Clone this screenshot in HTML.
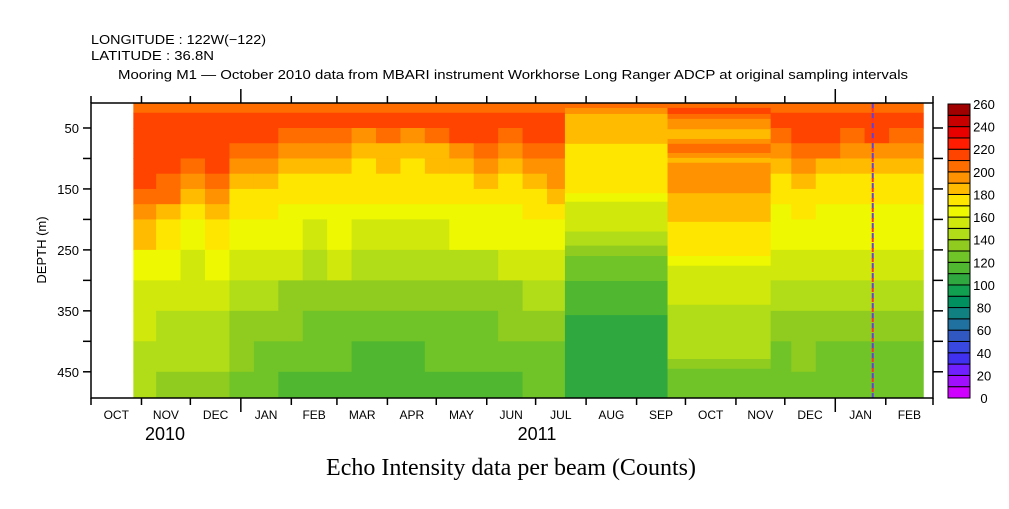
<!DOCTYPE html>
<html><head><meta charset="utf-8">
<style>
body{margin:0;background:#fff;}
svg text{font-family:"Liberation Sans",sans-serif;fill:#000;}
</style></head>
<body>
<svg id="chart" width="1009" height="504" viewBox="0 0 1009 504" xmlns="http://www.w3.org/2000/svg">
<text x="91" y="44" font-size="13" textLength="175" lengthAdjust="spacingAndGlyphs">LONGITUDE : 122W(−122)</text>
<text x="91" y="60" font-size="13" textLength="123" lengthAdjust="spacingAndGlyphs">LATITUDE : 36.8N</text>
<text x="118" y="79" font-size="13" textLength="790" lengthAdjust="spacingAndGlyphs">Mooring M1 — October 2010 data from MBARI instrument Workhorse Long Ranger ADCP at original sampling intervals</text>
<g id="heat"></g>
<g id="axes"></g>
<g id="cbar"></g>
<text transform="translate(46,250) rotate(-90)" text-anchor="middle" font-size="13">DEPTH (m)</text>
<text x="165" y="440" text-anchor="middle" font-size="18">2010</text>
<text x="537" y="440" text-anchor="middle" font-size="18">2011</text>
<text x="511" y="475" text-anchor="middle" font-size="24" style="font-family:'Liberation Serif',serif">Echo Intensity data per beam (Counts)</text>
</svg>
<script>
// ---- data ----
const depthEdges=[9,25,50,75,100,125,150,175,200,250,300,350,400,450,493];
const colStarts=[26,40,55,70,85,100,115,130,145,160,175,190,205,220,235,250,265,280];
const colEnd1=291;
const noisy1=[
[205,215,215,215,212,210,205,190,180,165,155,150,145,140],
[205,215,215,215,212,208,200,188,176,162,152,148,140,135],
[205,215,215,212,205,195,185,175,168,158,150,145,140,135],
[205,215,215,215,210,205,198,185,175,160,150,145,140,135],
[205,215,212,205,195,185,178,172,165,155,145,138,130,125],
[205,215,210,200,190,180,175,170,162,152,140,132,125,120],
[205,215,205,195,185,178,172,168,160,150,138,130,122,118],
[205,212,200,190,180,175,170,165,158,148,136,128,120,115],
[205,215,205,192,182,176,172,168,160,150,138,128,120,115],
[205,210,195,185,178,174,170,166,158,145,132,124,118,115],
[205,212,200,188,180,175,170,166,158,145,132,124,118,115],
[205,210,198,185,178,174,170,166,158,146,134,125,118,115],
[205,212,200,188,180,175,171,166,158,146,135,126,120,116],
[205,215,210,198,185,178,172,168,160,148,136,128,120,116],
[205,215,212,205,192,182,175,168,160,148,138,128,122,118],
[205,212,205,195,186,178,172,168,160,150,138,130,122,118],
[205,215,212,205,195,185,175,170,162,150,140,130,124,120],
[205,215,210,205,198,190,180,172,164,152,142,132,125,122]];
const colStarts2=[417,430,445,460,475,490];
const colEnd2=511;
const noisy2=[
[205,215,205,195,185,178,172,168,162,152,142,135,128,125],
[205,215,212,200,190,180,174,170,164,155,145,138,130,126],
[205,215,210,200,188,178,172,168,162,152,142,135,128,124],
[205,212,205,192,182,175,170,166,160,150,140,132,126,122],
[205,215,210,198,186,177,172,168,162,152,142,134,128,124],
[205,212,205,194,184,176,171,166,160,150,140,132,126,122]];
const augStart=291, augEnd=354;
const augDepths=[9,17,27,76,157,171,220,243,260,301,357,493];
const augValues=[205,195,185,175,165,155,145,135,125,115,105];
const octStart=354, octEnd=417;
const octDepths=[9,17,27,35,52,68,76,91,99,107,157,204,260,276,340,429,445,493];
const octValues=[205,215,205,195,185,195,205,195,185,195,185,175,165,155,145,135,125];
const cbColors=['#d000ff','#a010ff','#7020ff','#4030f0','#3848e0','#3058c0','#2070a0','#108080','#009060','#10a050','#30a840','#50b830','#70c428','#90cc20','#b0dc18','#d0e80c','#eef800','#ffe600','#ffbb00','#ff9200','#ff6c00','#ff4400','#ff1c00','#e80000','#c80000','#a00000'];
const monthDays=[0,31,61,92,123,151,182,212,243,273,304,335,365,396,426,457,488,517];
const monthLabels=['OCT','NOV','DEC','JAN','FEB','MAR','APR','MAY','JUN','JUL','AUG','SEP','OCT','NOV','DEC','JAN','FEB'];
const depthTicks=[50,100,150,200,250,300,350,400,450];
const cbTicks=[0,20,40,60,80,100,120,140,160,180,200,220,240,260];
const markerDay=480;
// ---- scales ----
const X0=91,X1=933,Y0=103,Y1=398,DMIN=9,DMAX=493,TMAX=517;
const xs=d=>X0+d*(X1-X0)/TMAX;
const ys=d=>Y0+(d-DMIN)*(Y1-Y0)/(DMAX-DMIN);
const col=v=>cbColors[Math.max(0,Math.min(25,Math.floor(v/10)))];
const NS='http://www.w3.org/2000/svg';
function mk(tag,parent,attrs){const e=document.createElementNS(NS,tag);for(const k in attrs)e.setAttribute(k,attrs[k]);parent.appendChild(e);return e;}
const heat=document.getElementById('heat');
function drawCols(starts,end,mat){
 starts.forEach((s,i)=>{const e=i+1<starts.length?starts[i+1]:end;
  mat[i].forEach((v,j)=>{const r=mk('rect',heat,{x:xs(s),y:ys(depthEdges[j]),width:xs(e)-xs(s)+0.5,height:ys(depthEdges[j+1])-ys(depthEdges[j])+0.5,fill:col(v)});
   
   });});}
drawCols(colStarts,colEnd1,noisy1);
drawCols(colStarts2,colEnd2,noisy2);
function drawLayers(s,e,dep,vals){vals.forEach((v,j)=>{const r=mk('rect',heat,{x:xs(s),y:ys(dep[j]),width:xs(e)-xs(s)+0.5,height:ys(dep[j+1])-ys(dep[j])+0.5,fill:col(v)});
 
 });}
drawLayers(augStart,augEnd,augDepths,augValues);
drawLayers(octStart,octEnd,octDepths,octValues);
const mline=mk('line',heat,{x1:xs(markerDay),x2:xs(markerDay),y1:Y0,y2:Y1,stroke:'#6040e0','stroke-width':2,'stroke-dasharray':'6,4'});


const mline2=mk('line',heat,{x1:xs(markerDay),x2:xs(markerDay),y1:Y0+5,y2:Y1,stroke:'#ff3030','stroke-width':2,'stroke-dasharray':'4,6'});


// ---- axes ----
const ax=document.getElementById('axes');
const fr=mk('rect',ax,{x:X0,y:Y0,width:X1-X0,height:Y1-Y0,fill:'none',stroke:'#000','stroke-width':1.5});


monthDays.forEach((d,i)=>{const x=xs(d);const major=(d===92||d===457);const L=major?14:7;
 mk('line',ax,{x1:x,x2:x,y1:Y0,y2:Y0-L,stroke:'#000','stroke-width':1.5});
 mk('line',ax,{x1:x,x2:x,y1:Y1,y2:Y1+L,stroke:'#000','stroke-width':1.5});
 if(i<monthLabels.length){const t=mk('text',ax,{x:(x+xs(monthDays[i+1]))/2,y:419,'text-anchor':'middle','font-size':12});t.textContent=monthLabels[i];
  
  }});
depthTicks.forEach(d=>{const y=ys(d);
 mk('line',ax,{x1:X0-8,x2:X0,y1:y,y2:y,stroke:'#000','stroke-width':1.5});
 mk('line',ax,{x1:X1,x2:X1+10,y1:y,y2:y,stroke:'#000','stroke-width':1.5});
 if(d%100===50){const t=mk('text',ax,{x:X0-12,y:y+5,'text-anchor':'end','font-size':13});t.textContent=d;
  
  }});
// ---- colorbar ----
const cb=document.getElementById('cbar');
const CX=948,CW=22,CT=104,CB=398,ch=(CB-CT)/26;
cbColors.forEach((c,i)=>{const r=mk('rect',cb,{x:CX,y:CB-(i+1)*ch,width:CW,height:ch,fill:c,stroke:'#000','stroke-width':1});
 
 });
cbTicks.forEach(v=>{const t=mk('text',cb,{x:984,y:CB-v/10*ch+5,'text-anchor':'middle','font-size':13});t.textContent=v;
 
 });
</script>
</body></html>
